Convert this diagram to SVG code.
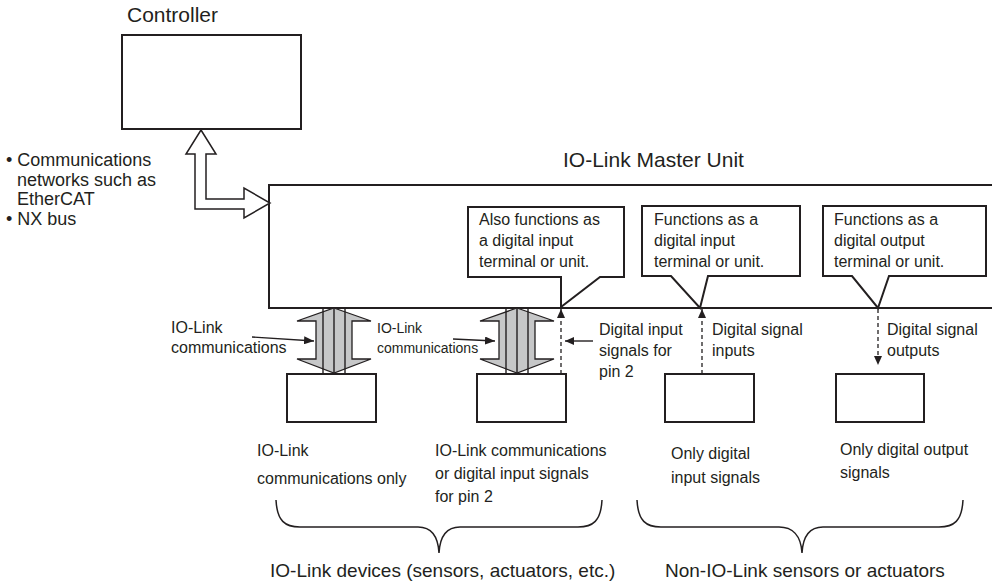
<svg xmlns="http://www.w3.org/2000/svg" width="992" height="585" viewBox="0 0 992 585">
<defs>
<style>
.t{font-family:"Liberation Sans",Arial,sans-serif;fill:#231f20;}
.s16{font-size:16px;}
.s14{font-size:14px;}
.s18{font-size:18px;}
.s19{font-size:19px;}
.s21{font-size:21px;}
.box{fill:#fff;stroke:#231f20;stroke-width:2;}
.ln{fill:none;stroke:#231f20;stroke-width:1.4;}
.dash{fill:none;stroke:#231f20;stroke-width:1.3;stroke-dasharray:4,3;}
.gray{fill:#c6c7c8;stroke:#231f20;stroke-width:1.3;stroke-linejoin:miter;}
.hollow{fill:#fff;stroke:#231f20;stroke-width:1.5;}
.brace{fill:none;stroke:#231f20;stroke-width:1.5;}
</style>
<marker id="ah" markerUnits="userSpaceOnUse" markerWidth="10" markerHeight="8" refX="10" refY="4" orient="auto">
<path d="M0,0 L10,4 L0,8 Z" fill="#231f20"/>
</marker>
<marker id="ahs" markerUnits="userSpaceOnUse" markerWidth="9" markerHeight="8" refX="9" refY="4" orient="auto">
<path d="M0,0 L9,4 L0,8 Z" fill="#231f20"/>
</marker>
</defs>
<rect width="992" height="585" fill="#fff"/>

<g id="controller">
<rect class="box" x="122" y="35" width="179" height="94"/>
<text class="t s21" x="127" y="22">Controller</text>
</g>

<g id="network-label">
<text class="t s18" x="6" y="166">• Communications</text>
<text class="t s18" x="17" y="185.5">networks such as</text>
<text class="t s18" x="17" y="205">EtherCAT</text>
<text class="t s18" x="6" y="224.5">• NX bus</text>
</g>

<g id="master">
<rect class="box" x="269" y="185" width="740" height="123"/>
<text class="t s21" x="563" y="167">IO-Link Master Unit</text>
</g>

<g id="callout1">
<path class="box" d="M468,207 H624 V277 H600 L561,307 L561,277 H468 Z"/>
<text class="t s16" x="479" y="225">Also functions as</text>
<text class="t s16" x="479" y="246">a digital input</text>
<text class="t s16" x="479" y="267">terminal or unit.</text>
</g>
<g id="callout2">
<path class="box" d="M642,206 H800 V276 H708 L700,308 L671,276 H642 Z"/>
<text class="t s16" x="654" y="225">Functions as a</text>
<text class="t s16" x="654" y="246">digital input</text>
<text class="t s16" x="654" y="267">terminal or unit.</text>
</g>
<g id="callout3">
<path class="box" d="M823,206 H986 V276 H889 L878,308 L852,276 H823 Z"/>
<text class="t s16" x="834" y="225">Functions as a</text>
<text class="t s16" x="834" y="246">digital output</text>
<text class="t s16" x="834" y="267">terminal or unit.</text>
</g>

<g id="device1">
<rect class="box" x="287" y="374" width="89" height="48"/>
<text class="t s16" x="257" y="456">IO-Link</text>
<text class="t s16" x="257" y="484">communications only</text>
</g>
<g id="device2">
<rect class="box" x="477" y="374" width="89" height="48"/>
<text class="t s16" x="435" y="456">IO-Link communications</text>
<text class="t s16" x="435" y="479">or digital input signals</text>
<text class="t s16" x="435" y="502">for pin 2</text>
</g>
<g id="device3">
<rect class="box" x="665" y="374" width="89" height="48"/>
<text class="t s16" x="671" y="459">Only digital</text>
<text class="t s16" x="671" y="483">input signals</text>
</g>
<g id="device4">
<rect class="box" x="836" y="374" width="88" height="48"/>
<text class="t s16" x="840" y="455">Only digital output</text>
<text class="t s16" x="840" y="478">signals</text>
</g>

<g id="group-labels">
<path class="brace" d="M276,500 C277,521 285,527 300,527 L418,527 C431,527 438,535 439,553 C440,535 447,527 460,527 L578,527 C593,527 601,521 602,500"/>
<text class="t s19" x="270" y="577">IO-Link devices (sensors, actuators, etc.)</text>
<path class="brace" d="M637,500 C638,521 646,527 661,527 L779,527 C792,527 801,535 802,553 C803,535 810,527 823,527 L939,527 C954,527 962,521 963,500"/>
<text class="t s19" x="665" y="577">Non-IO-Link sensors or actuators</text>
</g>

<g id="connectors">
<path class="hollow" d="M201,130 L216,154 L206,154 L206,199 L244,199 L244,188 L270,203 L244,218 L244,209 L195,209 L195,154 L186,154 Z"/>

<path class="gray" d="M334,308 L371,321 L352,321 L352,359 L371,359 L334,373 L297,359 L316,359 L316,321 L297,321 Z"/>
<path class="ln" d="M323,308 V374 M334,308 V374 M345,308 V374"/>
<path class="gray" d="M517,308 L554,321 L535,321 L535,359 L554,359 L517,373 L480,359 L499,359 L499,321 L480,321 Z"/>
<path class="ln" d="M506,308 V374 M517,308 V374 M528,308 V374"/>

<text class="t s16" x="171" y="333">IO-Link</text>
<text class="t s16" x="171" y="353">communications</text>
<line class="ln" x1="252" y1="337" x2="314" y2="341" marker-end="url(#ah)"/>
<text class="t s14" x="377" y="333">IO-Link</text>
<text class="t s14" x="377" y="353">communications</text>
<line class="ln" x1="453" y1="339" x2="495" y2="341" marker-end="url(#ah)"/>

<line class="dash" x1="561" y1="374" x2="561" y2="309" marker-end="url(#ahs)"/>
<line class="ln" x1="593" y1="341" x2="565" y2="341" marker-end="url(#ahs)"/>
<text class="t s16" x="599" y="335">Digital input</text>
<text class="t s16" x="599" y="356">signals for</text>
<text class="t s16" x="599" y="377">pin 2</text>

<line class="dash" x1="702" y1="374" x2="702" y2="309" marker-end="url(#ahs)"/>
<text class="t s16" x="712" y="335">Digital signal</text>
<text class="t s16" x="712" y="356">inputs</text>

<line class="dash" x1="878" y1="309" x2="878" y2="365" marker-end="url(#ahs)"/>
<text class="t s16" x="887" y="335">Digital signal</text>
<text class="t s16" x="887" y="356">outputs</text>
</g>
</svg>
